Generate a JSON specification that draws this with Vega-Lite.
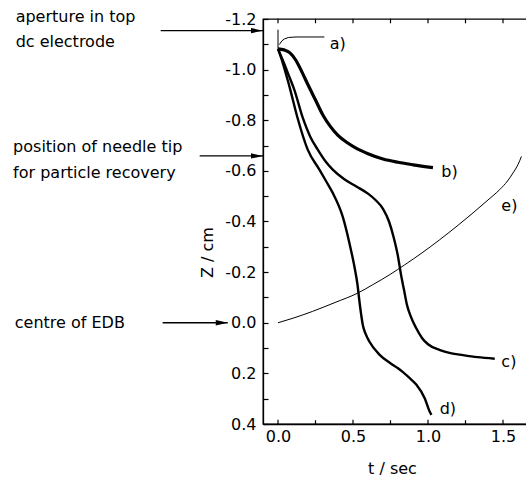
{
  "$schema": "https://vega.github.io/schema/vega-lite/v6.json",
  "width": 264,
  "height": 405,
  "autosize": {"type": "none"},
  "padding": {"left": 263, "top": 19, "right": 0, "bottom": 58},
  "background": "white",
  "config": {
    "view": {"stroke": "black", "strokeWidth": 1.3},
    "axis": {
      "labelFont": "DejaVu Sans", "labelFontSize": 16, "labelColor": "black",
      "titleFont": "DejaVu Sans", "titleFontSize": 16, "titleFontWeight": "normal", "titleColor": "black",
      "domainColor": "black", "domainWidth": 1.3, "tickColor": "black", "tickWidth": 1.2, "grid": false
    }
  },
  "datasets": {
    "curves": [
      {"series": "a", "t": 0, "z": -1.082},
      {"series": "a", "t": 0, "z": -1.158},
      {"series": "lead", "t": 0.009, "z": -1.099},
      {"series": "lead", "t": 0.025, "z": -1.113},
      {"series": "lead", "t": 0.042, "z": -1.121},
      {"series": "lead", "t": 0.07, "z": -1.127},
      {"series": "lead", "t": 0.12, "z": -1.129},
      {"series": "lead", "t": 0.309, "z": -1.129},
      {"series": "b", "t": 0, "z": -1.082},
      {"series": "b", "t": 0.04, "z": -1.078},
      {"series": "b", "t": 0.08, "z": -1.066},
      {"series": "b", "t": 0.12, "z": -1.036},
      {"series": "b", "t": 0.16, "z": -0.99},
      {"series": "b", "t": 0.2, "z": -0.94},
      {"series": "b", "t": 0.25, "z": -0.88},
      {"series": "b", "t": 0.3, "z": -0.82},
      {"series": "b", "t": 0.35, "z": -0.775},
      {"series": "b", "t": 0.4, "z": -0.74},
      {"series": "b", "t": 0.46, "z": -0.712},
      {"series": "b", "t": 0.52, "z": -0.69},
      {"series": "b", "t": 0.6, "z": -0.668},
      {"series": "b", "t": 0.7, "z": -0.647},
      {"series": "b", "t": 0.8, "z": -0.634},
      {"series": "b", "t": 0.9, "z": -0.624},
      {"series": "b", "t": 1.033, "z": -0.613},
      {"series": "c", "t": 0, "z": -1.082},
      {"series": "c", "t": 0.03, "z": -1.04},
      {"series": "c", "t": 0.07, "z": -0.98},
      {"series": "c", "t": 0.109, "z": -0.92},
      {"series": "c", "t": 0.165, "z": -0.81},
      {"series": "c", "t": 0.215, "z": -0.735},
      {"series": "c", "t": 0.265, "z": -0.684},
      {"series": "c", "t": 0.32, "z": -0.635},
      {"series": "c", "t": 0.365, "z": -0.605},
      {"series": "c", "t": 0.44, "z": -0.568},
      {"series": "c", "t": 0.52, "z": -0.539},
      {"series": "c", "t": 0.6, "z": -0.51},
      {"series": "c", "t": 0.65, "z": -0.485},
      {"series": "c", "t": 0.7, "z": -0.45},
      {"series": "c", "t": 0.74, "z": -0.4},
      {"series": "c", "t": 0.77, "z": -0.34},
      {"series": "c", "t": 0.8, "z": -0.262},
      {"series": "c", "t": 0.82, "z": -0.19},
      {"series": "c", "t": 0.84, "z": -0.13},
      {"series": "c", "t": 0.86, "z": -0.07},
      {"series": "c", "t": 0.885, "z": -0.025},
      {"series": "c", "t": 0.92, "z": 0.02},
      {"series": "c", "t": 0.96, "z": 0.06},
      {"series": "c", "t": 1.0, "z": 0.085},
      {"series": "c", "t": 1.08, "z": 0.108},
      {"series": "c", "t": 1.15, "z": 0.12},
      {"series": "c", "t": 1.233, "z": 0.128},
      {"series": "c", "t": 1.33, "z": 0.136},
      {"series": "c", "t": 1.445, "z": 0.142},
      {"series": "d", "t": 0, "z": -1.082},
      {"series": "d", "t": 0.03, "z": -1.03},
      {"series": "d", "t": 0.076, "z": -0.934},
      {"series": "d", "t": 0.13, "z": -0.81},
      {"series": "d", "t": 0.198, "z": -0.684},
      {"series": "d", "t": 0.276, "z": -0.605},
      {"series": "d", "t": 0.32, "z": -0.56},
      {"series": "d", "t": 0.365, "z": -0.513},
      {"series": "d", "t": 0.431, "z": -0.42},
      {"series": "d", "t": 0.476, "z": -0.315},
      {"series": "d", "t": 0.509, "z": -0.223},
      {"series": "d", "t": 0.53, "z": -0.15},
      {"series": "d", "t": 0.543, "z": -0.084},
      {"series": "d", "t": 0.555, "z": -0.03},
      {"series": "d", "t": 0.565, "z": 0.008},
      {"series": "d", "t": 0.585, "z": 0.045},
      {"series": "d", "t": 0.609, "z": 0.074},
      {"series": "d", "t": 0.676, "z": 0.126},
      {"series": "d", "t": 0.745, "z": 0.158},
      {"series": "d", "t": 0.8, "z": 0.18},
      {"series": "d", "t": 0.833, "z": 0.195},
      {"series": "d", "t": 0.88, "z": 0.22},
      {"series": "d", "t": 0.923, "z": 0.245},
      {"series": "d", "t": 0.978, "z": 0.298},
      {"series": "d", "t": 1.011, "z": 0.351},
      {"series": "d", "t": 1.023, "z": 0.364},
      {"series": "e", "t": 0, "z": 0.0},
      {"series": "e", "t": 0.1, "z": -0.018},
      {"series": "e", "t": 0.231, "z": -0.045},
      {"series": "e", "t": 0.38, "z": -0.08},
      {"series": "e", "t": 0.531, "z": -0.117},
      {"series": "e", "t": 0.631, "z": -0.15},
      {"series": "e", "t": 0.745, "z": -0.19},
      {"series": "e", "t": 0.845, "z": -0.229},
      {"series": "e", "t": 0.96, "z": -0.276},
      {"series": "e", "t": 1.078, "z": -0.328},
      {"series": "e", "t": 1.2, "z": -0.385},
      {"series": "e", "t": 1.3, "z": -0.434},
      {"series": "e", "t": 1.4, "z": -0.485},
      {"series": "e", "t": 1.478, "z": -0.526},
      {"series": "e", "t": 1.53, "z": -0.56},
      {"series": "e", "t": 1.567, "z": -0.592},
      {"series": "e", "t": 1.6, "z": -0.625},
      {"series": "e", "t": 1.623, "z": -0.657}
    ],
    "labels": [
      {"t": 0.345, "z": -1.103, "text": "a)"},
      {"t": 1.089, "z": -0.594, "text": "b)"},
      {"t": 1.489, "z": 0.157, "text": "c)"},
      {"t": 1.078, "z": 0.341, "text": "d)"},
      {"t": 1.489, "z": -0.463, "text": "e)"}
    ],
    "notes": [
      {"t": -1.749, "z": -1.206, "text": "aperture in top"},
      {"t": -1.749, "z": -1.111, "text": "dc electrode"},
      {"t": -1.766, "z": -0.696, "text": "position of needle tip"},
      {"t": -1.766, "z": -0.591, "text": "for particle recovery"},
      {"t": -1.755, "z": 0.0, "text": "centre of EDB"}
    ],
    "arrows": [
      {"t": -0.1, "t0": -0.782, "z": -1.154},
      {"t": -0.1, "t0": -0.522, "z": -0.659},
      {"t": -0.335, "t0": -0.769, "z": 0.0}
    ],
    "tickmarks": [
      {"t": 0, "z": 0.392},
      {"t": 0.25, "z": 0.394},
      {"t": 0.5, "z": 0.392},
      {"t": 0.75, "z": 0.394},
      {"t": 1.0, "z": 0.392},
      {"t": 1.25, "z": 0.394},
      {"t": 1.5, "z": 0.392},
      {"t": 0, "z": -1.192},
      {"t": 0.25, "z": -1.192},
      {"t": 0.5, "z": -1.192},
      {"t": 0.75, "z": -1.192},
      {"t": 1.0, "z": -1.192},
      {"t": 1.25, "z": -1.192},
      {"t": 1.5, "z": -1.192}
    ]
  },
  "encoding": {
    "x": {
      "field": "t", "type": "quantitative",
      "scale": {"domain": [-0.1, 1.66], "nice": false, "zero": false},
      "axis": {
        "orient": "bottom",
        "values": [0, 0.5, 1.0, 1.5],
        "format": ".1f",
        "ticks": false, "labelPadding": 4,
        "title": "t / sec", "titleX": 129, "titleY": 44, "titleAlign": "center", "titleBaseline": "middle"
      }
    },
    "y": {
      "field": "z", "type": "quantitative",
      "scale": {"domain": [-1.2, 0.4], "reverse": true, "nice": false, "zero": false},
      "axis": {
        "orient": "left",
        "values": [-1.2, -1.1, -1.0, -0.9, -0.8, -0.7, -0.6, -0.5, -0.4, -0.3, -0.2, -0.1, 0, 0.1, 0.2, 0.3, 0.4],
        "labelExpr": "abs(round(datum.value*10))%2==0 ? replace(format(datum.value,'.1f'),'\u2212','-') : ''",
        "ticks": true, "tickSize": -5, "labelPadding": 12,
        "title": "Z / cm", "titleX": -56, "titleY": 233, "titleAlign": "center", "titleBaseline": "middle"
      }
    }
  },
  "layer": [
    {
      "data": {"name": "curves"},
      "transform": [{"filter": "datum.series == 'e'"}],
      "mark": {"type": "line", "interpolate": "monotone", "color": "black", "strokeWidth": 1}
    },
    {
      "data": {"name": "curves"},
      "transform": [{"filter": "datum.series == 'a' || datum.series == 'lead'"}],
      "mark": {"type": "line", "color": "black", "strokeWidth": 1},
      "encoding": {"detail": {"field": "series"}}
    },
    {
      "data": {"name": "curves"},
      "transform": [{"filter": "datum.series == 'b'"}],
      "mark": {"type": "line", "interpolate": "monotone", "color": "black", "strokeWidth": 3.2}
    },
    {
      "data": {"name": "curves"},
      "transform": [{"filter": "datum.series == 'c' || datum.series == 'd'"}],
      "mark": {"type": "line", "interpolate": "monotone", "color": "black", "strokeWidth": 2.4},
      "encoding": {"detail": {"field": "series"}}
    },
    {
      "data": {"name": "labels"},
      "mark": {"type": "text", "align": "left", "baseline": "middle", "font": "DejaVu Sans", "fontSize": 16, "color": "black"},
      "encoding": {"text": {"field": "text"}}
    },
    {
      "data": {"name": "notes"},
      "mark": {"type": "text", "align": "left", "baseline": "middle", "font": "DejaVu Sans", "fontSize": 16, "color": "black"},
      "encoding": {"text": {"field": "text"}}
    },
    {
      "data": {"name": "arrows"},
      "mark": {"type": "rule", "color": "black", "strokeWidth": 1.3},
      "encoding": {"x2": {"field": "t0"}}
    },
    {
      "data": {"name": "arrows"},
      "mark": {"type": "point", "shape": "M0,0L-1,-0.22L-1,0.22Z", "size": 576, "filled": true, "color": "black", "opacity": 1}
    },
    {
      "data": {"name": "tickmarks"},
      "mark": {"type": "tick", "orient": "vertical", "size": 4.5, "thickness": 1.2, "color": "black", "opacity": 1}
    }
  ]
}
